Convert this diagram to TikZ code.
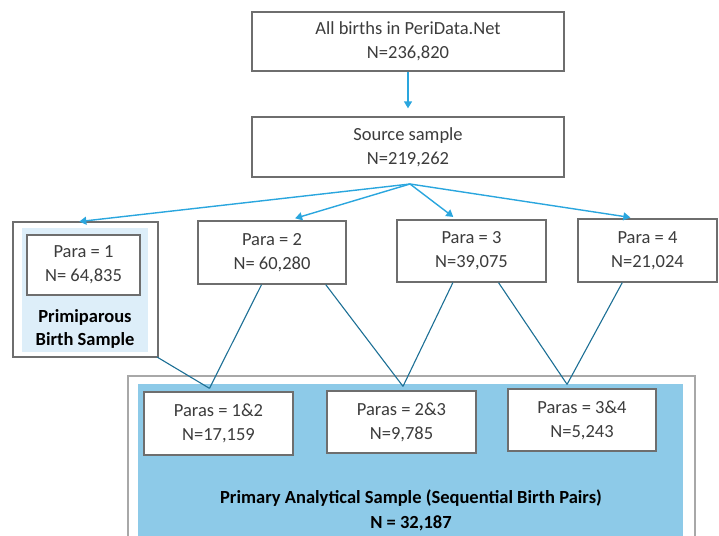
\documentclass[tikz,border=0pt]{standalone}
\usepackage{fontspec}
\setmainfont{Carlito}
\usepackage{tikz}
\usetikzlibrary{positioning,arrows.meta,calc}

\definecolor{arrowblue}{HTML}{2AA6DE}
\definecolor{linkblue}{HTML}{1C6F95}
\definecolor{poolblue}{HTML}{8DCAE8}
\definecolor{paleblue}{HTML}{DDEEF9}
\definecolor{framegray}{HTML}{6E6E6E}
\definecolor{txtgray}{HTML}{3C3C3C}

\tikzset{
  countbox/.style={draw=framegray,line width=1.3pt,fill=white,inner sep=0pt,
    text=txtgray,align=center,font=\fontsize{18.5}{24}\selectfont},
  feed/.style={draw=arrowblue,line width=1.4pt,-{Triangle[length=7pt,width=8pt]}},
  pairlink/.style={draw=linkblue,line width=1.1pt}
}

\begin{document}
\begin{tikzpicture}[x=1pt,y=-1pt]
  \useasboundingbox (0,0) rectangle (719,535);
  \clip (0,0) rectangle (719,535);
  % background panels
  \draw[framegray,line width=1.3pt,fill=white](13,222)rectangle(158,357);
  \fill[paleblue](22,228)rectangle(148,352);
  \draw[framegray!60,line width=1.3pt,fill=white](128,376)rectangle(695,560);
  \fill[poolblue](138,384)rectangle(683,560);
  \coordinate (p1nw) at (13,222);
  \coordinate (p1ne) at (158,222);
  \coordinate (p1se) at (157,357);
  % boxes
  \node[countbox,minimum width=312,minimum height=59] (all) at (408,41.5){All births in PeriData.Net\\N=236,820};
  \node[countbox,minimum width=312,minimum height=60] (src) at (408,147){Source sample\\N=219,262};
  \node[countbox,minimum width=113,minimum height=60] (p1) at (83.5,265){Para = 1\\N= 64,835};
  \node[countbox,minimum width=148,minimum height=63] (p2) at (272,252.5){Para = 2\\N= 60,280};
  \node[countbox,minimum width=149,minimum height=62] (p3) at (471.5,251){Para = 3\\N=39,075};
  \node[countbox,minimum width=139,minimum height=63] (p4) at (647.5,250.5){Para = 4\\N=21,024};
  \node[align=center,font=\bfseries\fontsize{18.5}{23}\selectfont] (prim) at (85,328.5){Primiparous\\Birth Sample};
  \node[countbox,minimum width=149,minimum height=63] (b12) at (218.5,423.5){Paras = 1\&2\\N=17,159};
  \node[countbox,minimum width=149,minimum height=62] (b23) at (401.5,422){Paras = 2\&3\\N=9,785};
  \node[countbox,minimum width=148,minimum height=62] (b34) at (582,420){Paras = 3\&4\\N=5,243};
  \node[align=center,font=\bfseries\fontsize{18.5}{25}\selectfont] (pool) at (411,510.5){Primary Analytical Sample (Sequential Birth Pairs)\\N = 32,187};
  % arrows down
  \draw[feed,shorten >=8pt](all.south)--(src.north);
  \coordinate (fork) at (410,184);
  \draw[feed,shorten >=4pt](fork)--($(p1nw)!.43!(p1ne)$);
  \draw[feed,shorten >=7pt](fork)--($(p2.north west)!.61!(p2.north east)$);
  \draw[feed,shorten >=4pt](fork)--($(p3.north west)!.40!(p3.north east)$);
  \draw[feed,shorten >=6pt](fork)--($(p4.north west)!.42!(p4.north east)$);
  % pair links
  \coordinate (t12) at ($(b12.north west)!.44!(b12.north east)+(0,-3)$);
  \coordinate (t23) at ($(b23.north west)!.51!(b23.north east)+(0,-4)$);
  \coordinate (t34) at ($(b34.north west)!.40!(b34.north east)+(0,-4)$);
  \draw[pairlink](p1se)--(t12);
  \draw[pairlink]($(p2.south west)!.43!(p2.south east)$)--(t12);
  \draw[pairlink]($(p2.south west)!.86!(p2.south east)$)--(t23);
  \draw[pairlink]($(p3.south west)!.376!(p3.south east)$)--(t23);
  \draw[pairlink]($(p3.south west)!.68!(p3.south east)$)--(t34);
  \draw[pairlink]($(p4.south west)!.32!(p4.south east)$)--(t34);
\end{tikzpicture}
\end{document}
